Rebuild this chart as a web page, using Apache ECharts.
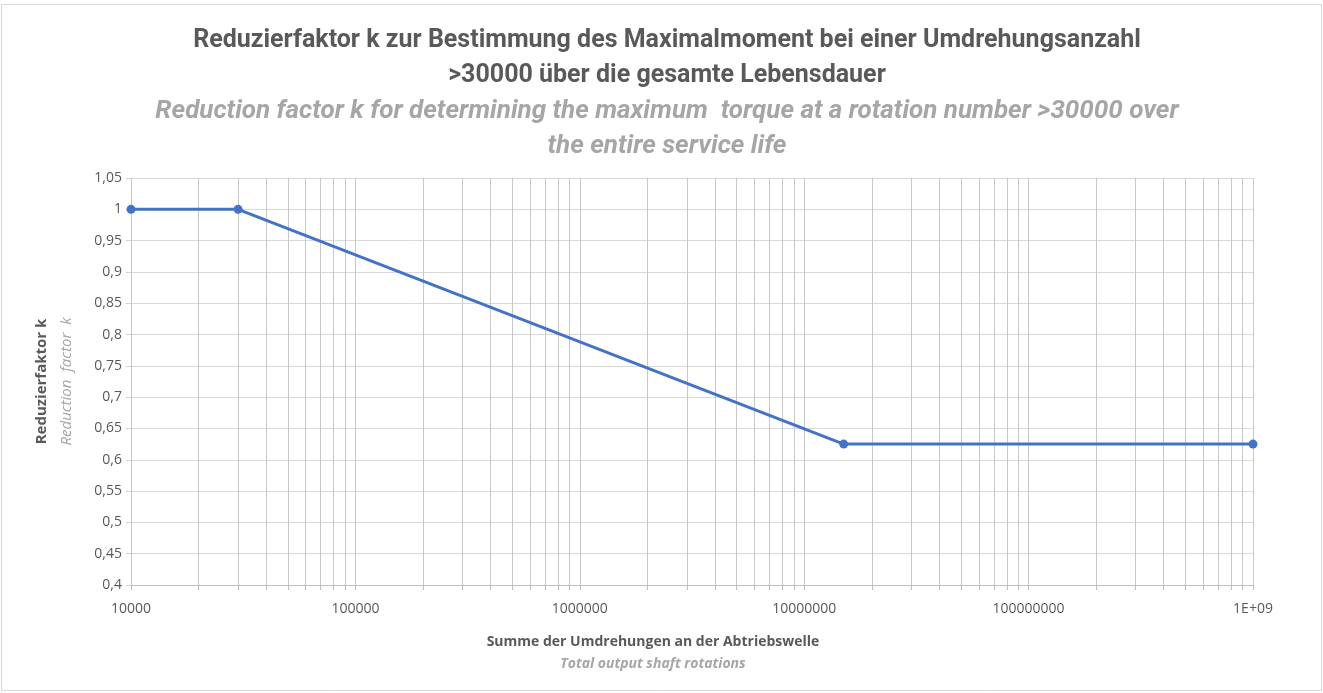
<!DOCTYPE html>
<html><head><meta charset="utf-8">
<script src="https://cdn.jsdelivr.net/npm/echarts@6/dist/echarts.min.js"></script>
<style>html,body{margin:0;padding:0;background:#fff}#c{width:1323px;height:693px}</style>
</head><body><div id="c"></div>
<script>
const rotations = [10000, 30000, 15000000, 1000000000];
const kValues = [1, 1, 0.625, 0.625];
const xMajorTicks = [10000, 100000, 1000000, 10000000, 100000000, 1000000000];
const xTickLabels = ['10000', '100000', '1000000', '10000000', '100000000', '1E+09'];
const multipliers = [1, 2, 3, 4, 5, 6, 7, 8, 9];
const yTicks = [0.4,0.45,0.5,0.55,0.6,0.65,0.7,0.75,0.8,0.85,0.9,0.95,1,1.05];

const xAllTicks = [];
xMajorTicks.forEach((d, i) => {
  if (i < xMajorTicks.length - 1) multipliers.forEach(m => xAllTicks.push(d * m));
  else xAllTicks.push(d);
});

const chart = echarts.init(document.getElementById('c'));
const font = '"Open Sans", "Noto Sans", sans-serif';
chart.setOption({
  animation: false,
  backgroundColor: '#fff',
  graphic: [{type:'rect', shape:{x:1.5,y:4.5,width:1320,height:686}, style:{fill:null, stroke:'#d9d9d9', lineWidth:1}}],
  title: [
    {text:'Reduzierfaktor k zur Bestimmung des Maximalmoment bei einer Umdrehungsanzahl\n>30000 über die gesamte Lebensdauer',
     left: 662, top: 18, textAlign:'center',
     textStyle:{fontFamily:'Roboto, sans-serif', fontWeight:'bold', fontSize:25, color:'#595959', lineHeight:35}},
    {text:'Reduction factor k for determining the maximum  torque at a rotation number >30000 over\nthe entire service life',
     left: 662, top: 89, textAlign:'center',
     textStyle:{fontFamily:'Roboto, sans-serif', fontStyle:'italic', fontWeight:'bold', fontSize:26, color:'#a6a6a6', lineHeight:35}},
    {text:'Summe der Umdrehungen an der Abtriebswelle', left: 648, top: 630, textAlign:'center',
     textStyle:{fontFamily:font, fontWeight:'bold', fontSize:14, color:'#595959'}},
    {text:'Total output shaft rotations', left: 648, top: 652, textAlign:'center',
     textStyle:{fontFamily:font, fontStyle:'italic', fontWeight:'bold', fontSize:14, color:'#a6a6a6'}}
  ],
  grid: {left:131, right:70, top:178, bottom:108, containLabel:false},
  xAxis: {
    type:'log', logBase:10, min:10000, max:1000000000,
    axisLine:{show:true, lineStyle:{color:'#bfbfbf', width:1}},
    axisTick:{show:true, length:5, customValues: xAllTicks, lineStyle:{color:'#bfbfbf'}},
    axisLabel:{customValues: xMajorTicks, margin:17, fontFamily:font, fontSize:14, color:'#595959',
      formatter: v => { const i = xMajorTicks.findIndex(t => Math.abs(Math.log10(t) - Math.log10(v)) < 1e-6); return i >= 0 ? xTickLabels[i] : ''; }},
    splitLine:{show:true, lineStyle:{color:'#c8c8c8', width:1}},
    minorTick:{show:false}, minorSplitLine:{show:false}
  },
  yAxis: {
    type:'value', min:0.4, max:1.05, interval:0.05,
    axisLine:{show:false},
    axisTick:{show:true, length:5, lineStyle:{color:'#d0d0d0'}},
    axisLabel:{margin:9, fontFamily:font, fontSize:14, color:'#595959',
      formatter: v => String(parseFloat(v.toFixed(2))).replace('.', ',')},
    splitLine:{show:true, lineStyle:{color:'#d9d9d9', width:1}},
    name:'{a|Reduzierfaktor k}\n{b|Reduction  factor  k}', nameLocation:'middle', nameGap:52, nameRotate:90,
    nameTextStyle:{rich:{
      a:{fontFamily:font, fontWeight:'bold', fontSize:15, color:'#595959', lineHeight:25},
      b:{fontFamily:font, fontStyle:'italic', fontSize:15, color:'#a6a6a6', lineHeight:25}}}
  },
  series: [{
    type:'line', data: rotations.map((x, i) => [x, kValues[i]]),
    symbol:'circle', symbolSize:9, showSymbol:true,
    lineStyle:{color:'#4472c4', width:3}, itemStyle:{color:'#4472c4'}
  }]
});
</script></body></html>
